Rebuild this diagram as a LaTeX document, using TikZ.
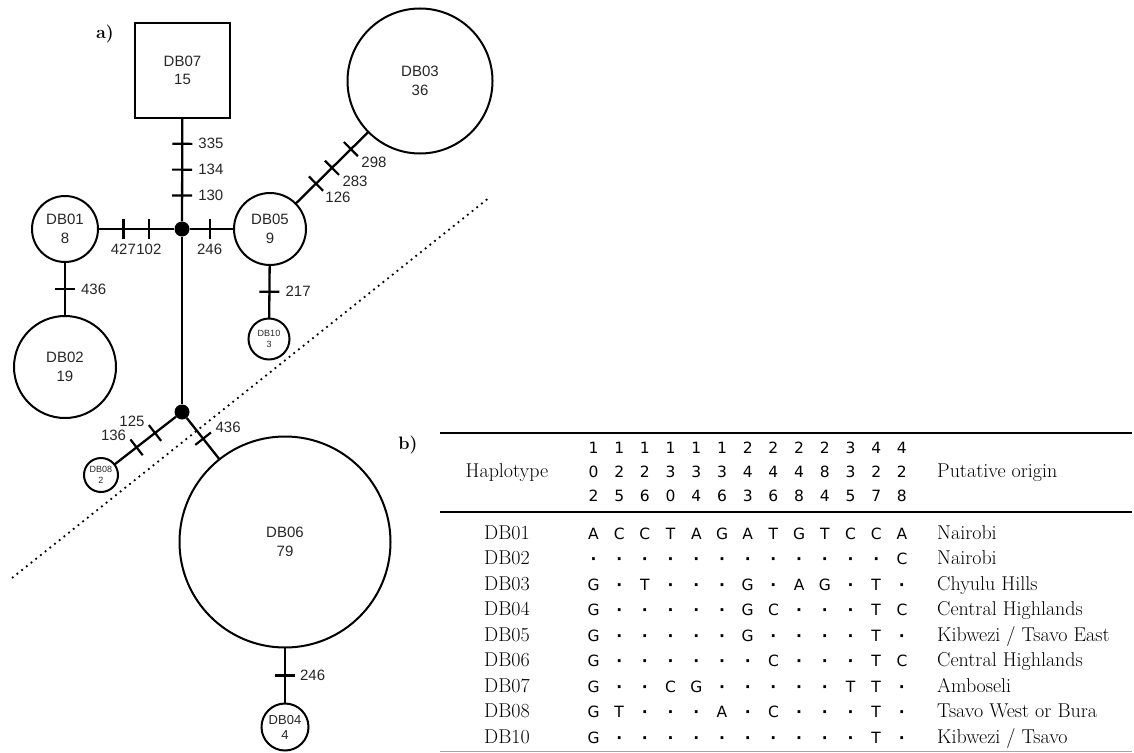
\documentclass[tikz,border=0pt]{standalone}
\usepackage{fontspec}
\newfontfamily\netfont{Liberation Sans}
\newfontfamily\basefont{DejaVu Sans}
\newcommand{\nd}{{\bfseries ·}}
\usetikzlibrary{positioning}
\begin{document}
\begin{tikzpicture}[x=1pt,y=-1pt]
	\tikzstyle{hap}=[circle,draw,line width=2pt,inner sep=0,outer sep=0,align=center,text=black!85,font=\netfont\fontsize{15}{18.5}\selectfont]
	\tikzstyle{tiny}=[hap,font=\netfont\fontsize{9}{11.5}\selectfont]
	\tikzstyle{mid}=[hap,font=\netfont\fontsize{13}{15}\selectfont]
	\tikzstyle{box}=[hap,rectangle,line width=2.5pt,minimum size=95pt]
	\tikzstyle{vec}=[circle,fill=black,inner sep=0,minimum size=15pt]
	\tikzstyle{edge}=[line width=2.3pt]
	\tikzstyle{mut}=[sloped,fill=black,inner sep=0,minimum width=2.2pt,minimum height=20pt]
	\tikzstyle{num}=[inner sep=1pt,text=black!85,font=\netfont\fontsize{15}{18}\selectfont]
	\tikzstyle{base}=[inner sep=0,anchor=base,font=\basefont\fontsize{15.5}{18}\selectfont]
	\tikzstyle{hdr}=[inner sep=0,anchor=base,font=\fontsize{20}{23}\selectfont]
	\tikzstyle{rule}=[line width=1.5pt]
	\useasboundingbox (0,0) rectangle (1134,752);
	
	% a) network
	\node [font=\bfseries\fontsize{18}{20}\selectfont] (pa) at (105,34) {a)};
	
	\node [box] (db07) at (182.5,70.5) {DB07\\15};
	\node [vec] (j1) at (182,229) {};
	\node [vec] (j2) at (182,412) {};
	\node [hap,minimum size=66pt] (db01) at (65,229) {DB01\\8};
	\node [hap,minimum size=72pt] (db05) at (270,229) {DB05\\9};
	\node [hap,minimum size=145pt] (db03) at (420,81) {DB03\\36};
	\node [hap,minimum size=102pt] (db02) at (65,367) {DB02\\19};
	\node [tiny,minimum size=41pt] (db10) at (269,339) {DB10\\3};
	\node [tiny,minimum size=34pt] (db08) at (101,475) {DB08\\2};
	\node [hap,minimum size=211pt] (db06) at (285,542) {DB06\\79};
	\node [mid,minimum size=47pt] (db04) at (285,727) {DB04\\4};
	
	\draw[edge] (db07) -- node[mut,pos=.25] (m335) {} node[num,pos=.25,right=14pt] (n335) {335}
		node[mut,pos=.5] (m134) {} node[num,pos=.5,right=14pt] (n134) {134}
		node[mut,pos=.75] (m130) {} node[num,pos=.75,right=14pt] (n130) {130} (j1);
	\draw[edge] (db01) -- node[mut,pos=.333] (m427) {} node[num,pos=.333,below=13pt] (n427) {427}
		node[mut,pos=.667] (m102) {} node[num,pos=.667,below=13pt] (n102) {102} (j1);
	\draw[edge] (j1) -- node[mut,pos=.45] (m246a) {} node[num,pos=.45,below=13pt] (n246a) {246} (db05);
	\draw[edge] (db05) -- node[mut,pos=.28] (m126) {} node[num,pos=.28,xshift=22pt,yshift=-14pt] (n126) {126}
		node[mut,pos=.5] (m283) {} node[num,pos=.5,xshift=23pt,yshift=-14pt] (n283) {283}
		node[mut,pos=.76] (m298) {} node[num,pos=.76,xshift=23pt,yshift=-13pt] (n298) {298} (db03);
	\draw[edge] (db01) -- node[mut,pos=.5] (m436a) {} node[num,pos=.5,right=14pt] (n436a) {436} (db02);
	\draw[edge] (db05) -- node[mut,pos=.5] (m217) {} node[num,pos=.5,right=14pt] (n217) {217} (db10);
	\draw[edge] (j1) -- (j2);
	\draw[edge] (j2) -- node[mut,pos=.34] (m125) {} node[num,pos=.34,xshift=-23pt,yshift=12pt] (n125) {125}
		node[mut,pos=.64] (m136) {} node[num,pos=.64,xshift=-23pt,yshift=12pt] (n136) {136} (db08);
	\draw[edge] (j2) -- node[mut,pos=.5] (m436b) {} node[num,pos=.5,xshift=25pt,yshift=11pt] (n436b) {436} (db06);
	\draw[edge] (db06) -- node[mut,pos=.5] (m246b) {} node[num,pos=.5,right=13pt] (n246b) {246} (db04);
	
	\coordinate (d1) at (12,578);
	\coordinate (d2) at (490,197);
	\draw[line width=1.8pt,dash pattern=on 1.8pt off 4.2pt] (d1) -- (d2);
	
	% b) table
	\node [font=\bfseries\fontsize{18}{20}\selectfont] (pb) at (408,445) {b)};
	\draw[rule] (440,433) -- (1132,433);
	\draw[rule] (440,512) -- (1132,512);
	\draw[black!35,line width=1pt] (440,751) -- (1132,751);
	
	\node [hdr] (th) at (507,477) {Haplotype};
	\node [hdr,anchor=base west] (to) at (937,477) {Putative origin};
	\foreach \a/\b/\e [count=\c from 0] in {1/0/2,1/2/5,1/2/6,1/3/0,1/3/4,1/3/6,2/4/3,2/4/6,2/4/8,2/8/4,3/3/5,4/2/7,4/2/8}
	{
		\node [base] (sa\c) at (593.5+25.7*\c,453) {\a};
		\node [base] (sb\c) at (593.5+25.7*\c,477) {\b};
		\node [base] (sc\c) at (593.5+25.7*\c,501) {\e};
	}
	\foreach \h/\seq/\org [count=\r from 0] in {
		DB01/{A,C,C,T,A,G,A,T,G,T,C,C,A}/Nairobi,
		DB02/{\nd,\nd,\nd,\nd,\nd,\nd,\nd,\nd,\nd,\nd,\nd,\nd,C}/Nairobi,
		DB03/{G,\nd,T,\nd,\nd,\nd,G,\nd,A,G,\nd,T,\nd}/{Chyulu Hills},
		DB04/{G,\nd,\nd,\nd,\nd,\nd,G,C,\nd,\nd,\nd,T,C}/{Central Highlands},
		DB05/{G,\nd,\nd,\nd,\nd,\nd,G,\nd,\nd,\nd,\nd,T,\nd}/{Kibwezi / Tsavo East},
		DB06/{G,\nd,\nd,\nd,\nd,\nd,\nd,C,\nd,\nd,\nd,T,C}/{Central Highlands},
		DB07/{G,\nd,\nd,C,G,\nd,\nd,\nd,\nd,\nd,T,T,\nd}/Amboseli,
		DB08/{G,T,\nd,\nd,\nd,A,\nd,C,\nd,\nd,\nd,T,\nd}/{Tsavo West or Bura},
		DB10/{G,\nd,\nd,\nd,\nd,\nd,\nd,\nd,\nd,\nd,\nd,T,\nd}/{Kibwezi / Tsavo}}
	{
		\node [hdr] (h\r) at (507,539+25.5*\r) {\h};
		\foreach \b [count=\c from 0] in \seq
			\node [base] (b\r-\c) at (593.5+25.7*\c,539+25.5*\r) {\b};
		\node [hdr,anchor=base west] (o\r) at (937,539+25.5*\r) {\org};
	}
\end{tikzpicture}
\end{document}
